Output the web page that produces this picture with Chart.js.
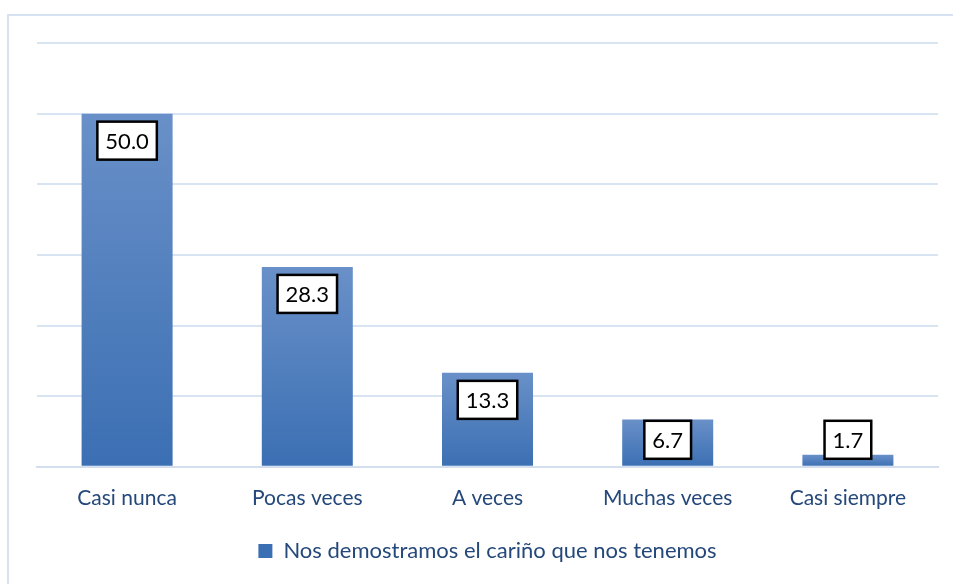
<!DOCTYPE html>
<html>
<head>
<meta charset="utf-8">
<script src="https://cdn.jsdelivr.net/npm/chart.js@4"></script>
<style>
html,body{margin:0;padding:0;background:#fff;}
#wrap{width:953px;height:584px;position:relative;}
</style>
</head>
<body>
<div id="wrap"><canvas id="c" width="953" height="584"></canvas></div>
<script>
const categories = ["Casi nunca", "Pocas veces", "A veces", "Muchas veces", "Casi siempre"];
const seriesName = "Nos demostramos el cariño que nos tenemos";
const values = [50.0, 28.3, 13.3, 6.7, 1.7];
const yMax = 60;
const yStep = 10;

const FONT = "Lato, 'Open Sans', sans-serif";

function barGradient(ctx) {
  const chart = ctx.chart;
  if (!chart.chartArea || ctx.type !== 'data') return '#4f7fbf';
  const ys = chart.scales.y;
  const top = ys.getPixelForValue(ctx.parsed ? ctx.parsed.y : values[ctx.dataIndex]);
  const base = ys.getPixelForValue(0);
  const g = chart.ctx.createLinearGradient(0, top, 0, base);
  g.addColorStop(0, '#6990c8');
  g.addColorStop(1, '#3b6fb3');
  return g;
}

const framePlugin = {
  id: 'frame',
  beforeDraw(chart) {
    const c = chart.ctx;
    c.save();
    c.fillStyle = '#fff';
    c.fillRect(0, 0, chart.width, chart.height);
    c.strokeStyle = '#d6e2f2';
    c.lineWidth = 2;
    c.strokeRect(8, 15, 1000, 1000);
    c.restore();
  }
};

const labelPlugin = {
  id: 'boxLabels',
  afterDatasetsDraw(chart) {
    const c = chart.ctx;
    const meta = chart.getDatasetMeta(0);
    c.save();
    c.font = "22px " + FONT;
    c.textAlign = 'center';
    c.textBaseline = 'middle';
    meta.data.forEach((bar, i) => {
      const txt = values[i].toFixed(1);
      const w = c.measureText(txt).width + 16;
      const h = 38;
      let top = Math.min(bar.y + 8, bar.base - 7 - h);
      const left = bar.x - w / 2;
      c.fillStyle = '#fff';
      c.fillRect(left, top, w, h);
      c.strokeStyle = '#000';
      c.lineWidth = 2.5;
      c.strokeRect(left, top, w, h);
      c.fillStyle = '#000';
      c.fillText(txt, bar.x, top + h / 2 + 1);
    });
    c.restore();
  }
};

new Chart(document.getElementById('c'), {
  type: 'bar',
  data: {
    labels: categories,
    datasets: [{
      label: seriesName,
      data: values,
      backgroundColor: barGradient,
      borderWidth: 0,
      categoryPercentage: 1.0,
      barPercentage: 0.505
    }]
  },
  options: {
    responsive: false,
    animation: false,
    devicePixelRatio: 1,
    layout: { padding: { top: 43, left: 37, right: 15, bottom: 12 } },
    scales: {
      x: {
        grid: { display: false },
        border: { display: true, color: '#d3dfef', width: 2 },
        ticks: { color: '#24487a', font: { family: FONT, size: 21 }, padding: 11 }
      },
      y: {
        display: true,
        min: 0, max: yMax,
        ticks: { display: false, stepSize: yStep },
        grid: { color: '#d9e4f2', lineWidth: 2, drawTicks: false },
        border: { display: false }
      }
    },
    plugins: {
      legend: {
        position: 'bottom',
        labels: {
          color: '#24487a',
          font: { family: FONT, size: 22 },
          boxWidth: 14, boxHeight: 14,
          padding: 18
        }
      },
      tooltip: { enabled: false }
    }
  },
  plugins: [framePlugin, labelPlugin]
});
</script>
</body>
</html>
